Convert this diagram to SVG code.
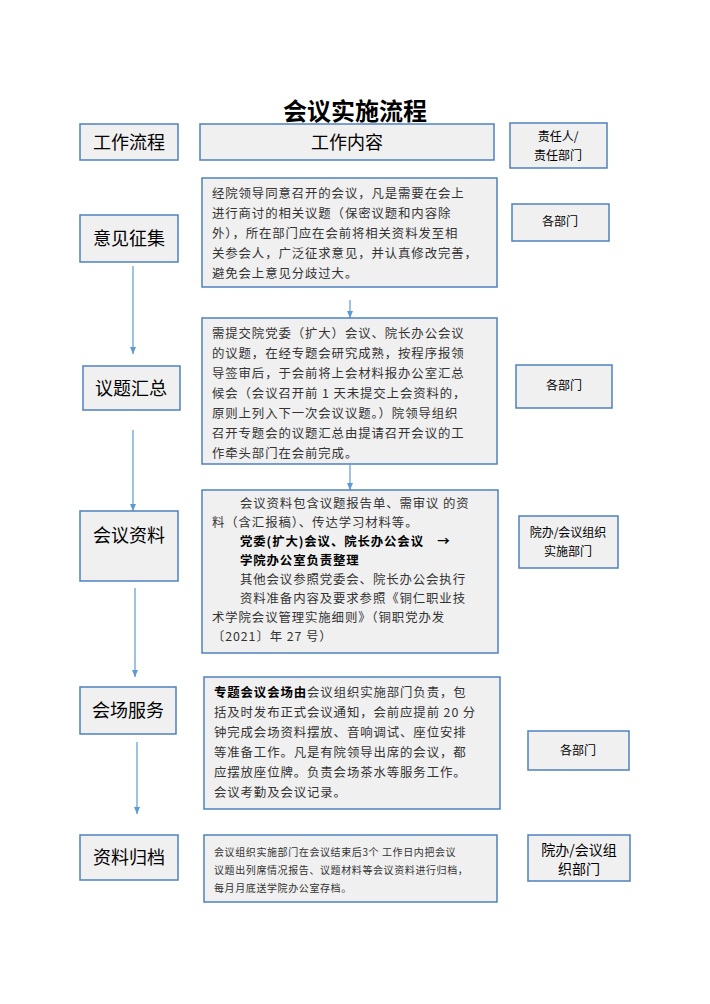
<svg xmlns="http://www.w3.org/2000/svg" width="710" height="1004" viewBox="0 0 710 1004">
<style>
.b{fill:#f0f0f0;stroke:#4f81bd;stroke-width:1.5}
.h{font-family:"Noto Sans CJK SC",sans-serif;font-size:18px;fill:#000;text-anchor:middle}
.r{font-family:"Noto Sans CJK SC",sans-serif;font-size:12px;fill:#000;text-anchor:middle}
.t{font-family:"Noto Sans CJK SC",serif;font-size:12.4px;fill:#333;letter-spacing:0.9px}
.s{font-family:"Noto Sans CJK SC",serif;font-size:10px;fill:#333;letter-spacing:0.6px}
.k{font-weight:bold;fill:#000}
.c{stroke:#5b9bd5;stroke-width:1.2;fill:none;marker-end:url(#a)}
</style>
<defs><marker id="a" markerWidth="8" markerHeight="8" refX="7" refY="4" orient="auto" markerUnits="userSpaceOnUse"><path d="M0,1 L7,4 L0,7 Z" fill="#5b9bd5"/></marker></defs>
<rect width="710" height="1004" fill="#fff"/>
<text x="355" y="120" font-family="Noto Sans CJK SC,serif" font-size="24" font-weight="bold" text-anchor="middle">会议实施流程</text>
<g id="connectors">
<line class="c" x1="133" y1="266" x2="133" y2="354"/>
<line class="c" x1="133" y1="430" x2="133" y2="511"/>
<line class="c" x1="135" y1="588" x2="135" y2="677"/>
<line class="c" x1="137" y1="742" x2="137" y2="814"/>
<line class="c" x1="350" y1="300" x2="350" y2="318"/>
<line class="c" x1="350" y1="465" x2="350" y2="490"/>
</g>
<g id="n-h1"><rect class="b" x="80" y="124" width="98" height="36"/><text class="h" x="129" y="149">工作流程</text></g>
<g id="n-h2"><rect class="b" x="200" y="124" width="294" height="36"/><text class="h" x="347" y="149">工作内容</text></g>
<g id="n-h3"><rect class="b" x="510" y="123" width="97" height="45"/><text class="r" x="558" y="141">责任人/</text><text class="r" x="558" y="160">责任部门</text></g>
<g id="n-l1"><rect class="b" x="80" y="215" width="98" height="47"/><text class="h" x="129" y="245">意见征集</text></g>
<g id="n-l2"><rect class="b" x="83" y="366" width="97" height="44"/><text class="h" x="131" y="395">议题汇总</text></g>
<g id="n-l3"><rect class="b" x="80" y="511" width="98" height="70"/><text class="h" x="129" y="542">会议资料</text></g>
<g id="n-l4"><rect class="b" x="80" y="687" width="96" height="47"/><text class="h" x="128" y="717">会场服务</text></g>
<g id="n-l5"><rect class="b" x="80" y="835" width="98" height="45"/><text class="h" x="129" y="864">资料归档</text></g>
<g id="n-c1"><rect class="b" x="202" y="178" width="295" height="109"/>
<text class="t" x="212" y="198">经院领导同意召开的会议，凡是需要在会上</text>
<text class="t" x="212" y="218">进行商讨的相关议题（保密议题和内容除</text>
<text class="t" x="212" y="238">外），所在部门应在会前将相关资料发至相</text>
<text class="t" x="212" y="258">关参会人，广泛征求意见，并认真修改完善，</text>
<text class="t" x="212" y="278">避免会上意见分歧过大。</text></g>
<g id="n-c2"><rect class="b" x="202" y="318" width="295" height="146"/>
<text class="t" x="212" y="338">需提交院党委（扩大）会议、院长办公会议</text>
<text class="t" x="212" y="358">的议题，在经专题会研究成熟，按程序报领</text>
<text class="t" x="212" y="378">导签审后，于会前将上会材料报办公室汇总</text>
<text class="t" x="212" y="398">候会（会议召开前 1 天未提交上会资料的，</text>
<text class="t" x="212" y="418">原则上列入下一次会议议题。）院领导组织</text>
<text class="t" x="212" y="438">召开专题会的议题汇总由提请召开会议的工</text>
<text class="t" x="212" y="458">作牵头部门在会前完成。</text></g>
<g id="n-c3"><rect class="b" x="202" y="490" width="296" height="163"/>
<text class="t" x="240" y="508">会议资料包含议题报告单、需审议 的资</text>
<text class="t" x="212" y="527">料（含汇报稿）、传达学习材料等。</text>
<text class="t k" x="240" y="546">党委(扩大)会议、院长办公会议　→</text>
<text class="t k" x="240" y="565">学院办公室负责整理</text>
<text class="t" x="240" y="584">其他会议参照党委会、院长办公会执行</text>
<text class="t" x="240" y="603">资料准备内容及要求参照《铜仁职业技</text>
<text class="t" x="212" y="622">术学院会议管理实施细则》（铜职党办发</text>
<text class="t" x="212" y="641">〔2021〕年 27 号）</text></g>
<g id="n-c4"><rect class="b" x="204" y="677" width="296" height="132"/>
<text class="t" x="214" y="697"><tspan class="k">专题会议会场由</tspan>会议组织实施部门负责，包</text>
<text class="t" x="214" y="717">括及时发布正式会议通知，会前应提前 20 分</text>
<text class="t" x="214" y="737">钟完成会场资料摆放、音响调试、座位安排</text>
<text class="t" x="214" y="757">等准备工作。凡是有院领导出席的会议，都</text>
<text class="t" x="214" y="777">应摆放座位牌。负责会场茶水等服务工作。</text>
<text class="t" x="214" y="797">会议考勤及会议记录。</text></g>
<g id="n-c5"><rect class="b" x="204" y="835" width="293" height="67"/>
<text class="s" x="214" y="856">会议组织实施部门在会议结束后3个 工作日内把会议</text>
<text class="s" x="214" y="874">议题出列席情况报告、议题材料等会议资料进行归档，</text>
<text class="s" x="214" y="892">每月月底送学院办公室存档。</text></g>
<g id="n-r1"><rect class="b" x="512" y="204" width="97" height="37"/><text class="r" x="560" y="226">各部门</text></g>
<g id="n-r2"><rect class="b" x="516" y="365" width="96" height="43"/><text class="r" x="564" y="390">各部门</text></g>
<g id="n-r3"><rect class="b" x="519" y="516" width="99" height="52"/><text class="r" x="568" y="537">院办/会议组织</text><text class="r" x="568" y="556">实施部门</text></g>
<g id="n-r4"><rect class="b" x="528" y="731" width="101" height="39"/><text class="r" x="578" y="755">各部门</text></g>
<g id="n-r5"><rect class="b" x="528" y="835" width="102" height="46"/><text class="r" x="579" y="855" style="font-size:14px">院办/会议组</text><text class="r" x="579" y="874" style="font-size:14px">织部门</text></g>
</svg>
